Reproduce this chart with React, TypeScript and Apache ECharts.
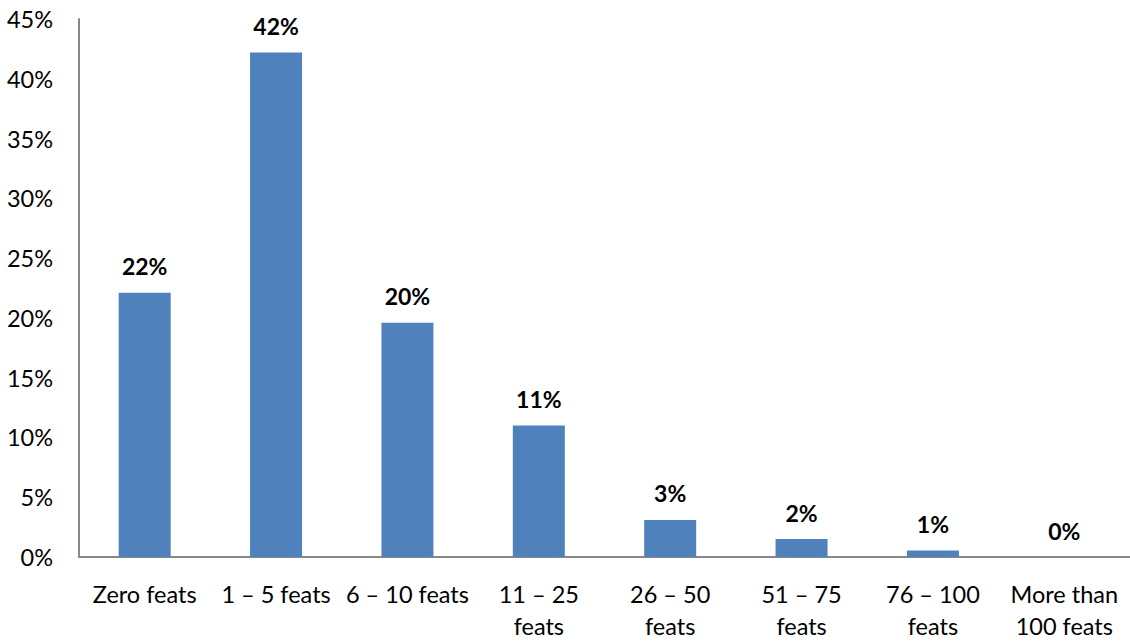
import React, { useEffect, useRef } from "react";
import * as echarts from "echarts";

const categories = [
  "Zero feats",
  "1 – 5 feats",
  "6 – 10 feats",
  "11 – 25\nfeats",
  "26 – 50\nfeats",
  "51 – 75\nfeats",
  "76 – 100\nfeats",
  "More than\n100 feats",
];
const values = [22.1, 42.2, 19.6, 11.0, 3.1, 1.5, 0.55, 0];
const yTicks = [0, 5, 10, 15, 20, 25, 30, 35, 40, 45];

const FONT = "Lato, 'Open Sans', sans-serif";

export default function App() {
  const ref = useRef<HTMLDivElement>(null);
  useEffect(() => {
    if (!ref.current) return;
    const chart = echarts.init(ref.current, null, { renderer: "svg" });
    chart.setOption({
      animation: false,
      backgroundColor: "#ffffff",
      grid: { left: 79, top: 19, width: 1056, height: 542, containLabel: false },
      xAxis: {
        type: "category",
        data: categories,
        axisLine: { show: true, lineStyle: { color: "#888888", width: 2 } },
        axisTick: { show: false },
        axisLabel: {
          color: "#000000",
          fontFamily: FONT,
          fontSize: 23.5,
          margin: 21,
          lineHeight: 32,
          interval: 0,
        },
      },
      yAxis: {
        type: "value",
        min: yTicks[0],
        max: yTicks[yTicks.length - 1],
        interval: 5,
        axisLine: { show: true, lineStyle: { color: "#888888", width: 2 } },
        axisTick: { show: false },
        splitLine: { show: false },
        axisLabel: {
          color: "#000000",
          fontFamily: FONT,
          fontSize: 23.5,
          margin: 26,
          formatter: (v: number) => `${v}%`,
        },
      },
      series: [
        {
          type: "bar",
          data: values,
          barWidth: 52,
          itemStyle: { color: "#4F81BD" },
          label: {
            show: true,
            position: "top",
            distance: 15,
            color: "#000000",
            fontFamily: FONT,
            fontSize: 23,
            fontWeight: "bold",
            formatter: (p: any) => `${Math.round(p.value)}%`,
          },
        },
      ],
    });
    return () => chart.dispose();
  }, []);
  return (
    <div
      ref={ref}
      style={{ position: "fixed", left: 0, top: 0, width: 1130, height: 642 }}
    />
  );
}
